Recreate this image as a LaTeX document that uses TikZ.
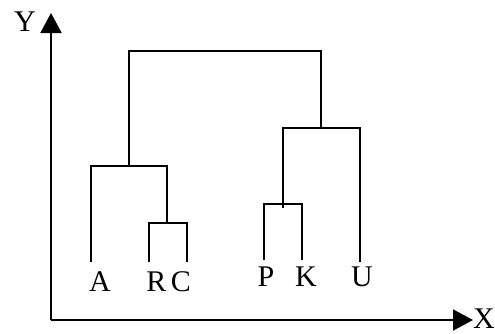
\documentclass[tikz,border=0pt]{standalone}
\usepackage{fontspec}
\setmainfont{Liberation Serif}
\usetikzlibrary{arrows.meta}
\tikzset{
  link/.style={line width=2pt, line join=miter},
  axis/.style={line width=2pt, -{Triangle[width=21pt,length=20pt]}},
  leaf/.style={anchor=base, inner sep=0pt, font=\fontsize{30}{30}\selectfont},
}
\begin{document}
\begin{tikzpicture}[x=1pt, y=-1pt]
  \useasboundingbox (0,0) rectangle (495,333);

  % axes
  \coordinate (origin) at (51,320);
  \coordinate (ytip) at (51,13);
  \coordinate (xtip) at (473,320);
  \draw[axis] (origin) -- (ytip);
  \draw[axis] (origin) -- (xtip);
  \node[leaf] (ylab) at (25,31.5) {Y};
  \node[leaf] (xlab) at (484,328) {X};

  % merge points of the tree
  \coordinate (lroot) at (129,51);
  \coordinate (rroot) at (321,51);
  \coordinate (lj) at (129,166);
  \coordinate (rj) at (321,128);
  \coordinate (rcj) at (167,223);
  \coordinate (pkj) at (283,208);
  \coordinate (pkbar) at (283,204);

  % leaf ends
  \coordinate (a) at (91,262);
  \coordinate (r) at (149,262);
  \coordinate (c) at (187,262);
  \coordinate (p) at (264,260);
  \coordinate (k) at (302,260);
  \coordinate (u) at (360,262);

  % top link
  \draw[link] (lj) -- (lroot) -- (rroot) -- (rj);
  % left cluster
  \draw[link] (a) |- (lj) -| (rcj);
  \draw[link] (r) |- (rcj) -| (c);
  % right cluster
  \draw[link] (pkj) |- (rj) -| (u);
  \draw[link] (p) |- (pkbar) -| (k);

  % leaf labels
  \node[leaf] (la) at (100,291.5) {A};
  \node[leaf] (lr) at (156.5,291.5) {R};
  \node[leaf] (lc) at (181,291.5) {C};
  \node[leaf] (lp) at (266,286) {P};
  \node[leaf] (lk) at (306,286) {K};
  \node[leaf] (lu) at (362,286) {U};
\end{tikzpicture}
\end{document}
